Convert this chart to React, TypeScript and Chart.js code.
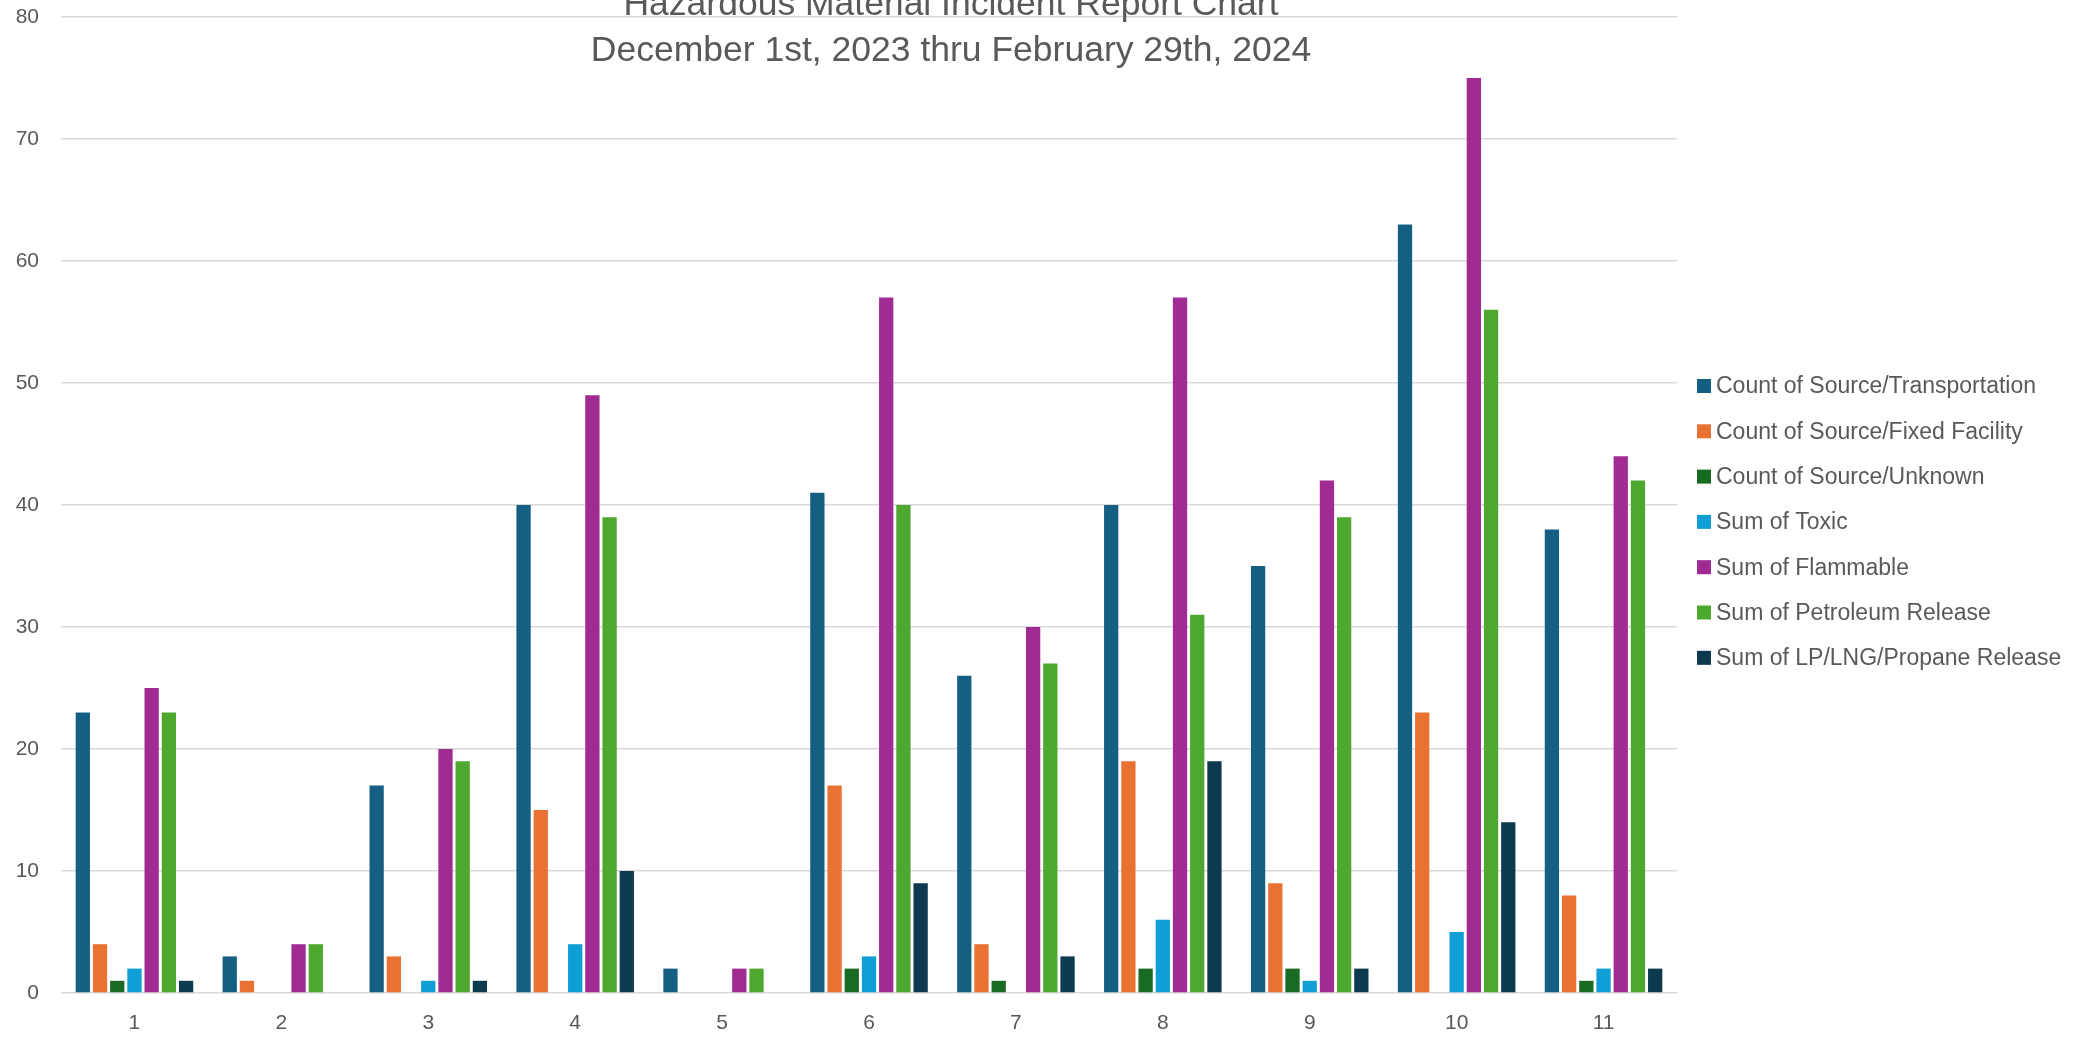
import React, { useEffect, useRef } from "react";
import { Chart, registerables } from "chart.js";

Chart.register(...registerables);

const categories = ["1", "2", "3", "4", "5", "6", "7", "8", "9", "10", "11"];
const transportation = [23, 3, 17, 40, 2, 41, 26, 40, 35, 63, 38];
const fixedFacility = [4, 1, 3, 15, 0, 17, 4, 19, 9, 23, 8];
const unknownSource = [1, 0, 0, 0, 0, 2, 1, 2, 2, 0, 1];
const toxic = [2, 0, 1, 4, 0, 3, 0, 6, 1, 5, 2];
const flammable = [25, 4, 20, 49, 2, 57, 30, 57, 42, 75, 44];
const petroleum = [23, 4, 19, 39, 2, 40, 27, 31, 39, 56, 42];
const propane = [1, 0, 1, 10, 0, 9, 3, 19, 2, 14, 2];

const seriesLabels = [
  "Count of Source/Transportation",
  "Count of Source/Fixed Facility",
  "Count of Source/Unknown",
  "Sum of Toxic",
  "Sum of Flammable",
  "Sum of Petroleum Release",
  "Sum of LP/LNG/Propane Release",
];
const seriesColors = ["#156082", "#E97132", "#196B24", "#0F9ED5", "#A02B93", "#4EA72E", "#0D3A4E"];
const titleLines = ["Hazardous Material Incident Report Chart", "December 1st, 2023 thru February 29th, 2024"];
const yMin = 0;
const yMax = 80;
const yStep = 10;

const FONT = '"Liberation Sans", Arial, sans-serif';
const TEXT = "#595959";

const overlayPlugin = {
  id: "overlay",
  afterDraw(chart: any) {
    const ctx = chart.ctx;
    ctx.save();
    // Title
    ctx.fillStyle = TEXT;
    ctx.font = `35.5px ${FONT}`;
    ctx.textAlign = "center";
    ctx.textBaseline = "alphabetic";
    const tx = 951;
    ctx.fillText(titleLines[0], tx, 15);
    ctx.fillText(titleLines[1], tx, 61);
    // Legend
    ctx.font = `23px ${FONT}`;
    ctx.textAlign = "left";
    ctx.textBaseline = "middle";
    chart.data.datasets.forEach((ds: any, i: number) => {
      const cy = 386 + i * 45.3;
      ctx.fillStyle = ds.backgroundColor;
      ctx.fillRect(1697, cy - 7, 14, 14);
      ctx.fillStyle = TEXT;
      ctx.fillText(ds.label, 1716, cy + 1);
    });
    ctx.restore();
  },
};

export default function App() {
  const ref = useRef<HTMLCanvasElement>(null);
  useEffect(() => {
    document.body.style.margin = "0";
    const values = [transportation, fixedFacility, unknownSource, toxic, flammable, petroleum, propane];
    const chart = new Chart(ref.current!, {
      type: "bar",
      data: {
        labels: categories,
        datasets: values.map((v, i) => ({
          label: seriesLabels[i],
          data: v,
          backgroundColor: seriesColors[i],
          borderWidth: 0,
          categoryPercentage: 0.82,
          barPercentage: 0.83,
        })),
      },
      options: {
        animation: false,
        responsive: false,
        devicePixelRatio: 1,
        layout: { padding: { top: 17, right: 400, left: 3, bottom: 0 } },
        plugins: {
          legend: { display: false },
          title: { display: false },
          tooltip: { enabled: false },
        },
        scales: {
          x: {
            grid: { display: false, drawTicks: false },
            border: { display: false },
            ticks: { color: TEXT, font: { family: FONT, size: 21 }, padding: 18 },
            afterFit: (s: any) => {
              s.height = 44;
            },
          },
          y: {
            min: yMin,
            max: yMax,
            grid: { color: "#d9d9d9", lineWidth: 1.5, drawTicks: false },
            border: { display: false },
            ticks: { stepSize: yStep, color: TEXT, font: { family: FONT, size: 21 }, padding: 22 },
            afterFit: (s: any) => {
              s.width = 58;
              s.paddingTop = 0;
              s.paddingBottom = 0;
            },
          },
        },
      },
      plugins: [overlayPlugin],
    });
    return () => chart.destroy();
  }, []);
  return (
    <div style={{ width: 2077, height: 1037 }}>
      <canvas ref={ref} width={2077} height={1037} style={{ display: "block" }} />
    </div>
  );
}
